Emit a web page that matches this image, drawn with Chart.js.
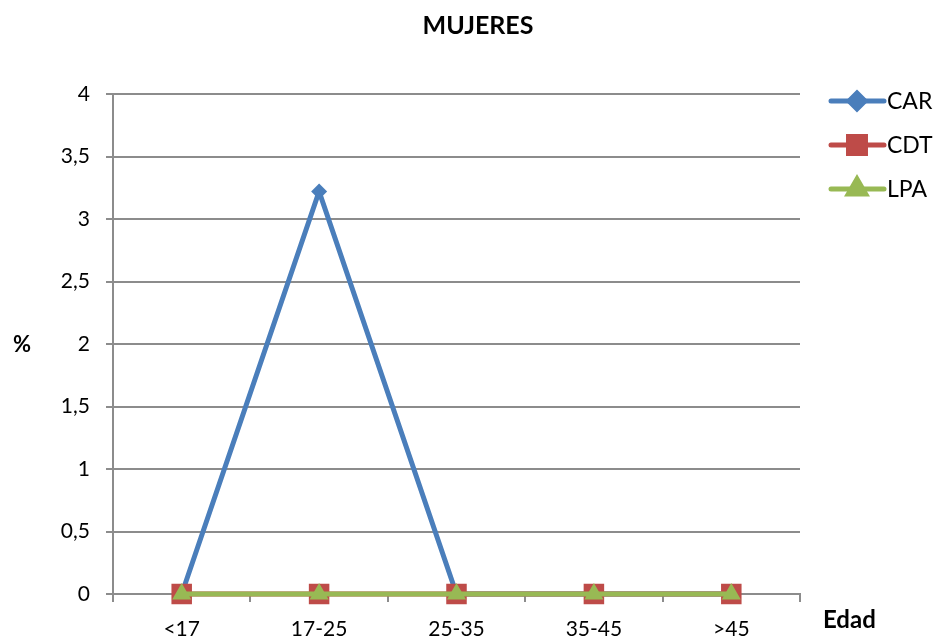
<!DOCTYPE html>
<html>
<head>
<meta charset="utf-8">
<script src="https://cdn.jsdelivr.net/npm/chart.js@4.4.0/dist/chart.umd.min.js"></script>
<style>
  html, body { margin: 0; padding: 0; background: #fff; }
  #wrap { width: 940px; height: 642px; }
</style>
</head>
<body>
<div id="wrap"><canvas id="grafico" width="940" height="642"></canvas></div>
<script>
const edades = ['<17', '17-25', '25-35', '35-45', '>45']
const car = [0, 3.22, 0, 0, 0]
const cdt = [0, 0, 0, 0, 0]
const lpa = [0, 0, 0, 0, 0]

const fuente = 'Lato, "Open Sans", sans-serif'
const gris = '#8c8c8c'

// leyenda, titulo y rotulos de ejes dibujados a mano
const extras = {
  id: 'extras',
  afterDraw(chart) {
    const ctx = chart.ctx
    ctx.save()
    ctx.fillStyle = '#000'
    ctx.textBaseline = 'middle'
    ctx.font = 'bold 25px ' + fuente
    ctx.textAlign = 'center'
    ctx.fillText('MUJERES', 478, 26)
    ctx.font = 'bold 22px ' + fuente
    ctx.fillText('%', 22, 345)
    ctx.textAlign = 'left'
    ctx.font = 'bold 24px ' + fuente
    ctx.fillText('Edad', 823, 620)

    const ys = [101, 145, 189]
    chart.data.datasets.forEach((ds, i) => {
      const y = ys[i]
      ctx.strokeStyle = ds.borderColor
      ctx.lineWidth = 5
      ctx.lineCap = 'round'
      ctx.beginPath()
      ctx.moveTo(831, y)
      ctx.lineTo(884, y)
      ctx.stroke()
      Chart.helpers.drawPoint(ctx, {
        pointStyle: ds.pointStyle,
        radius: ds.legendRadius,
        borderWidth: 1,
      }, 857, y)
      ctx.fillStyle = ds.backgroundColor
      ctx.fill()
      ctx.fillStyle = '#000'
      ctx.font = '23px ' + fuente
      ctx.fillText(ds.label, 887, y + 1)
    })
    ctx.restore()
  },
}

new Chart(document.getElementById('grafico'), {
  type: 'line',
  data: {
    labels: edades,
    datasets: [
      {
        label: 'CAR',
        data: car,
        borderColor: '#4a7ebb',
        backgroundColor: '#4a7ebb',
        borderWidth: 5,
        pointStyle: 'rectRot',
        pointRadius: 8,
        legendRadius: 8,
        pointBorderWidth: 0,
        clip: false,
        order: 3,
      },
      {
        label: 'CDT',
        data: cdt,
        borderColor: '#be4b48',
        backgroundColor: '#be4b48',
        borderWidth: 5,
        pointStyle: 'rect',
        pointRadius: 14.5,
        legendRadius: 12,
        pointBorderWidth: 0,
        clip: false,
        order: 2,
      },
      {
        label: 'LPA',
        data: lpa,
        borderColor: '#98b954',
        backgroundColor: '#98b954',
        borderWidth: 5,
        pointStyle: 'triangle',
        pointRadius: 11,
        legendRadius: 10,
        pointBorderWidth: 0,
        clip: false,
        order: 1,
      },
    ],
  },
  options: {
    responsive: false,
    animation: false,
    layout: { padding: { top: 94, right: 140, left: 0, bottom: 0 } },
    plugins: {
      legend: { display: false },
      title: { display: false },
      tooltip: { enabled: false },
    },
    scales: {
      x: {
        offset: true,
        grid: {
          offset: true,
          drawOnChartArea: false,
          drawTicks: true,
          tickLength: 8,
          color: gris,
          lineWidth: 2,
        },
        border: { color: gris, width: 2 },
        ticks: { color: '#000', font: { size: 21, family: fuente }, padding: 15 },
        afterFit(scale) { scale.height = 48 },
      },
      y: {
        min: 0,
        max: 4,
        ticks: {
          stepSize: 0.5,
          color: '#000',
          font: { size: 21, family: fuente },
          padding: 16,
          callback: (v) => String(v).replace('.', ','),
        },
        grid: { color: gris, lineWidth: 2, tickLength: 7 },
        border: { color: gris, width: 2 },
        afterFit(scale) { scale.width = 113 },
      },
    },
  },
  plugins: [extras],
})
</script>
</body>
</html>
